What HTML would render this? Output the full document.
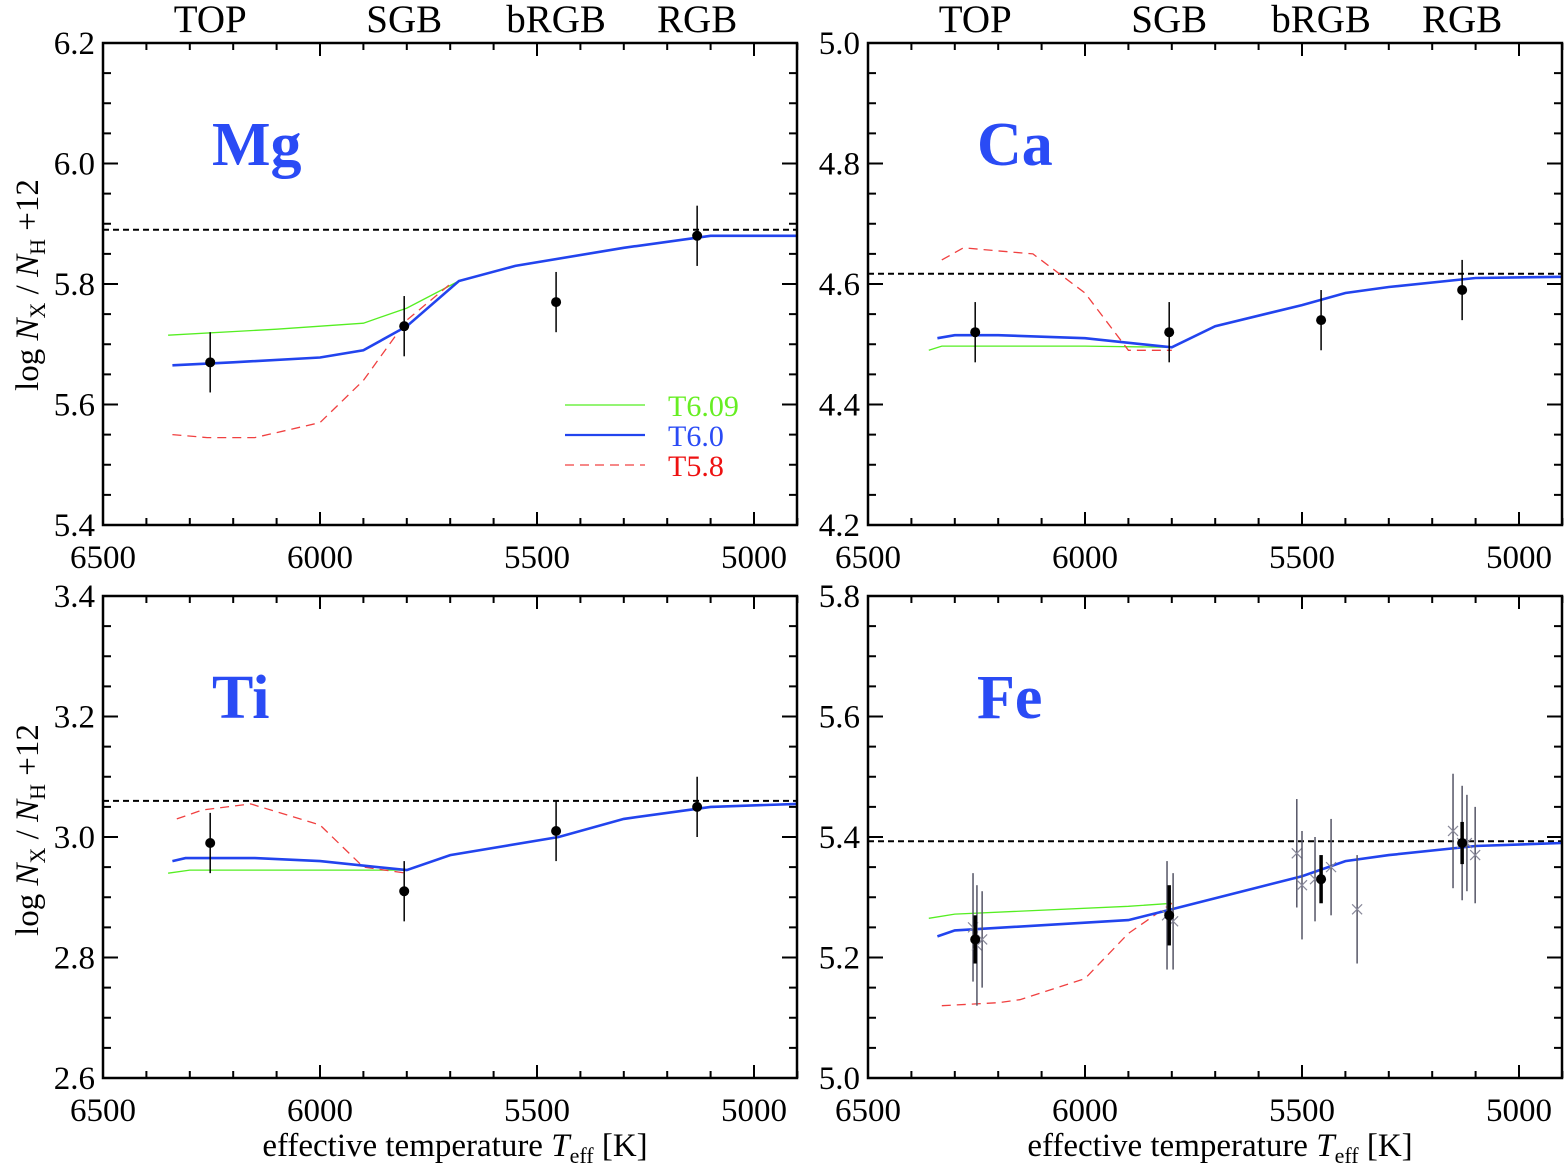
<!DOCTYPE html>
<html><head><meta charset="utf-8"><style>
body{margin:0;background:#fff}
svg{display:block;font-family:"Liberation Serif",serif}
</style></head><body>
<svg id="c" width="1566" height="1166" xmlns="http://www.w3.org/2000/svg"></svg>
<script>
const NS="http://www.w3.org/2000/svg";
// ---- data ----
const stageLabels=["TOP","SGB","bRGB","RGB"];
const stageTeff=[6253,5806,5456,5131];
const xTicks=[6500,6000,5500,5000];
const panelNames=["Mg","Ca","Ti","Fe"];
const yMins=[5.4,4.2,2.6,5.0];
const yMaxs=[6.2,5.0,3.4,5.8];
const refLevels=[5.89,4.617,3.06,5.393];
const obsVals=[[5.67,5.73,5.77,5.88],[4.52,4.52,4.54,4.59],[2.99,2.91,3.01,3.05],[5.23,5.27,5.33,5.39]];
const obsErrs=[[0.05,0.05,0.05,0.05],[0.05,0.05,0.05,0.05],[0.05,0.05,0.05,0.05],[0.04,0.05,0.04,0.035]];
const blueT=[[6340,6200,6000,5900,5800,5680,5550,5300,5100,4900],[6340,6300,6200,6000,5800,5700,5500,5400,5300,5100,4900],[6340,6310,6150,6000,5800,5700,5450,5300,5100,4900],[6340,6300,5900,5800,5500,5400,5300,5100,4900]];
const blueV=[[5.665,5.67,5.678,5.69,5.73,5.805,5.83,5.86,5.88,5.88],[4.51,4.515,4.515,4.51,4.495,4.53,4.565,4.585,4.595,4.61,4.612],[2.96,2.965,2.965,2.96,2.945,2.97,3.0,3.03,3.05,3.055],[5.235,5.245,5.262,5.28,5.335,5.36,5.37,5.385,5.39]];
const greenT=[[6350,6100,5900,5800,5680],[6360,6330,6000,5800],[6350,6300,5800],[6360,6300,5900,5800]];
const greenV=[[5.715,5.725,5.735,5.76,5.805],[4.49,4.497,4.497,4.495],[2.94,2.945,2.945],[5.265,5.272,5.285,5.29]];
const redT=[[6340,6260,6150,6000,5900,5800,5700],[6330,6280,6200,6120,6000,5900,5800],[6330,6270,6160,6000,5900,5800],[6330,6200,6150,6000,5900,5800]];
const redV=[[5.55,5.545,5.545,5.57,5.64,5.74,5.8],[4.64,4.66,4.655,4.65,4.585,4.49,4.49],[3.03,3.045,3.055,3.02,2.95,2.94],[5.12,5.125,5.13,5.165,5.24,5.29]];
const feStarT=[6258,6249,6237,5811,5797,5512,5500,5470,5433,5373,5152,5131,5120,5101];
const feStarV=[5.25,5.22,5.23,5.27,5.26,5.373,5.32,5.33,5.35,5.28,5.41,5.39,5.39,5.37];
const feStarE=[0.09,0.1,0.08,0.09,0.08,0.09,0.09,0.07,0.08,0.09,0.095,0.095,0.08,0.08];
const legendNames=["T6.09","T6.0","T5.8"];
// ---- layout ----
const svg=document.getElementById('c');
function el(tag,attrs,parent,text){const e=document.createElementNS(NS,tag);for(const k in attrs)e.setAttribute(k,attrs[k]);if(text!==undefined)e.textContent=text;(parent||svg).appendChild(e);return e;}
const boxes=[{l:103,t:43},{l:868,t:43},{l:103,t:596},{l:868,t:596}];
const W=694,H=482;
boxes.forEach((b,p)=>{
  const g=el('g',{});
  
  
  const xs=T=>b.l+(6500-T)*0.434;
  const ys=v=>b.t+H-(v-yMins[p])/(yMaxs[p]-yMins[p])*H;
  for(let T=6500;T>=4900;T-=100){const x=xs(T);const L=(T%500===0)?13:7;
    el('line',{x1:x,y1:b.t+H,x2:x,y2:b.t+H-L,stroke:'#000','stroke-width':2},g);
    el('line',{x1:x,y1:b.t,x2:x,y2:b.t+L,stroke:'#000','stroke-width':2},g);}
  for(let i=0;i<=16;i++){const v=yMins[p]+i*0.05;const y=ys(v);const L=(i%4===0)?15:8;
    el('line',{x1:b.l,y1:y,x2:b.l+L,y2:y,stroke:'#000','stroke-width':2},g);
    el('line',{x1:b.l+W,y1:y,x2:b.l+W-L,y2:y,stroke:'#000','stroke-width':2},g);
    if(i%4===0){const t=el('text',{x:b.l-8,y:y+11,'font-size':33,'text-anchor':'end'},g,(yMins[p]+i*0.05).toFixed(1));
      }}
  xTicks.forEach(T=>{const t=el('text',{x:xs(T),y:b.t+H+43,'font-size':33,'text-anchor':'middle'},g,T);
    });
  const r=el('line',{x1:b.l,x2:b.l+W,y1:ys(refLevels[p]),y2:ys(refLevels[p]),stroke:'#000','stroke-width':2,'stroke-dasharray':'6,4'},g);
  
  const pl=(T,V)=>T.map((t,i)=>xs(t).toFixed(1)+','+ys(V[i]).toFixed(1)).join(' ');
  const gr=el('polyline',{points:pl(greenT[p],greenV[p]),fill:'none',stroke:'#55ee22','stroke-width':1.3},g);
  
  const rd=el('polyline',{points:pl(redT[p],redV[p]),fill:'none',stroke:'#f04040','stroke-width':1.3,'stroke-dasharray':'9,6'},g);
  
  const bl=el('polyline',{points:pl(blueT[p],blueV[p]),fill:'none',stroke:'#2244ee','stroke-width':2.6},g);
  
  if(p===3){feStarT.forEach((T,i)=>{const x=xs(T),y=ys(feStarV[i]);
    const s=el('g',{},g);
    el('line',{x1:x,x2:x,y1:ys(feStarV[i]-feStarE[i]),y2:ys(feStarV[i]+feStarE[i]),stroke:'#556','stroke-width':1.5},s);
    el('path',{d:`M${x-5},${y-5}L${x+5},${y+5}M${x-5},${y+5}L${x+5},${y-5}`,stroke:'#889','stroke-width':1.2},s);});}
  stageTeff.forEach((T,i)=>{const x=xs(T),v=obsVals[p][i];
    const s=el('g',{},g);
    el('line',{x1:x,x2:x,y1:ys(v-obsErrs[p][i]),y2:ys(v+obsErrs[p][i]),stroke:'#000','stroke-width':p===3?3.5:1.5},s);
    el('circle',{cx:x,cy:ys(v),r:5,fill:'#000'},s);
    if(p<2){const t=el('text',{x:x,y:32,'font-size':39,'text-anchor':'middle'},g,stageLabels[i]);
      }});
  el('rect',{x:b.l,y:b.t,width:W,height:H,fill:'none',stroke:'#000','stroke-width':2.5},g);
  const nm=el('text',{x:b.l+109,y:b.t+122,'font-size':62,'font-weight':'bold',fill:'#2a4bf5'},g,panelNames[p]);
  
});
const lg=el('g',{});
const lc=['#55ee22','#2244ee','#f04040'],lt=['#66ee22','#2a4bf5','#ee1111'],lw=[1.3,2.2,1.3],ld=['none','none','9,6'];
legendNames.forEach((n,i)=>{const y=405+i*30;
  const e=el('g',{},lg);
  el('line',{x1:565,x2:645,y1:y,y2:y,stroke:lc[i],'stroke-width':lw[i],'stroke-dasharray':ld[i]},e);
  el('text',{x:668,y:y+11,'font-size':30,fill:lt[i]},e,n);});
[285,830].forEach(cy=>{const t=el('text',{transform:`translate(38,${cy}) rotate(-90)`,'font-size':33,'text-anchor':'middle'});
  
  t.innerHTML='log <tspan font-style="italic">N</tspan><tspan font-size="22" dy="7">X</tspan><tspan dy="-7"> / </tspan><tspan font-style="italic">N</tspan><tspan font-size="22" dy="7">H</tspan><tspan dy="-7"> +12</tspan>';});
[455,1220].forEach(cx=>{const t=el('text',{x:cx,y:1156,'font-size':33,'text-anchor':'middle'});
  
  t.innerHTML='effective temperature <tspan font-style="italic">T</tspan><tspan font-size="22" dy="7">eff</tspan><tspan dy="-7">  [K]</tspan>';});
</script>
</body></html>
